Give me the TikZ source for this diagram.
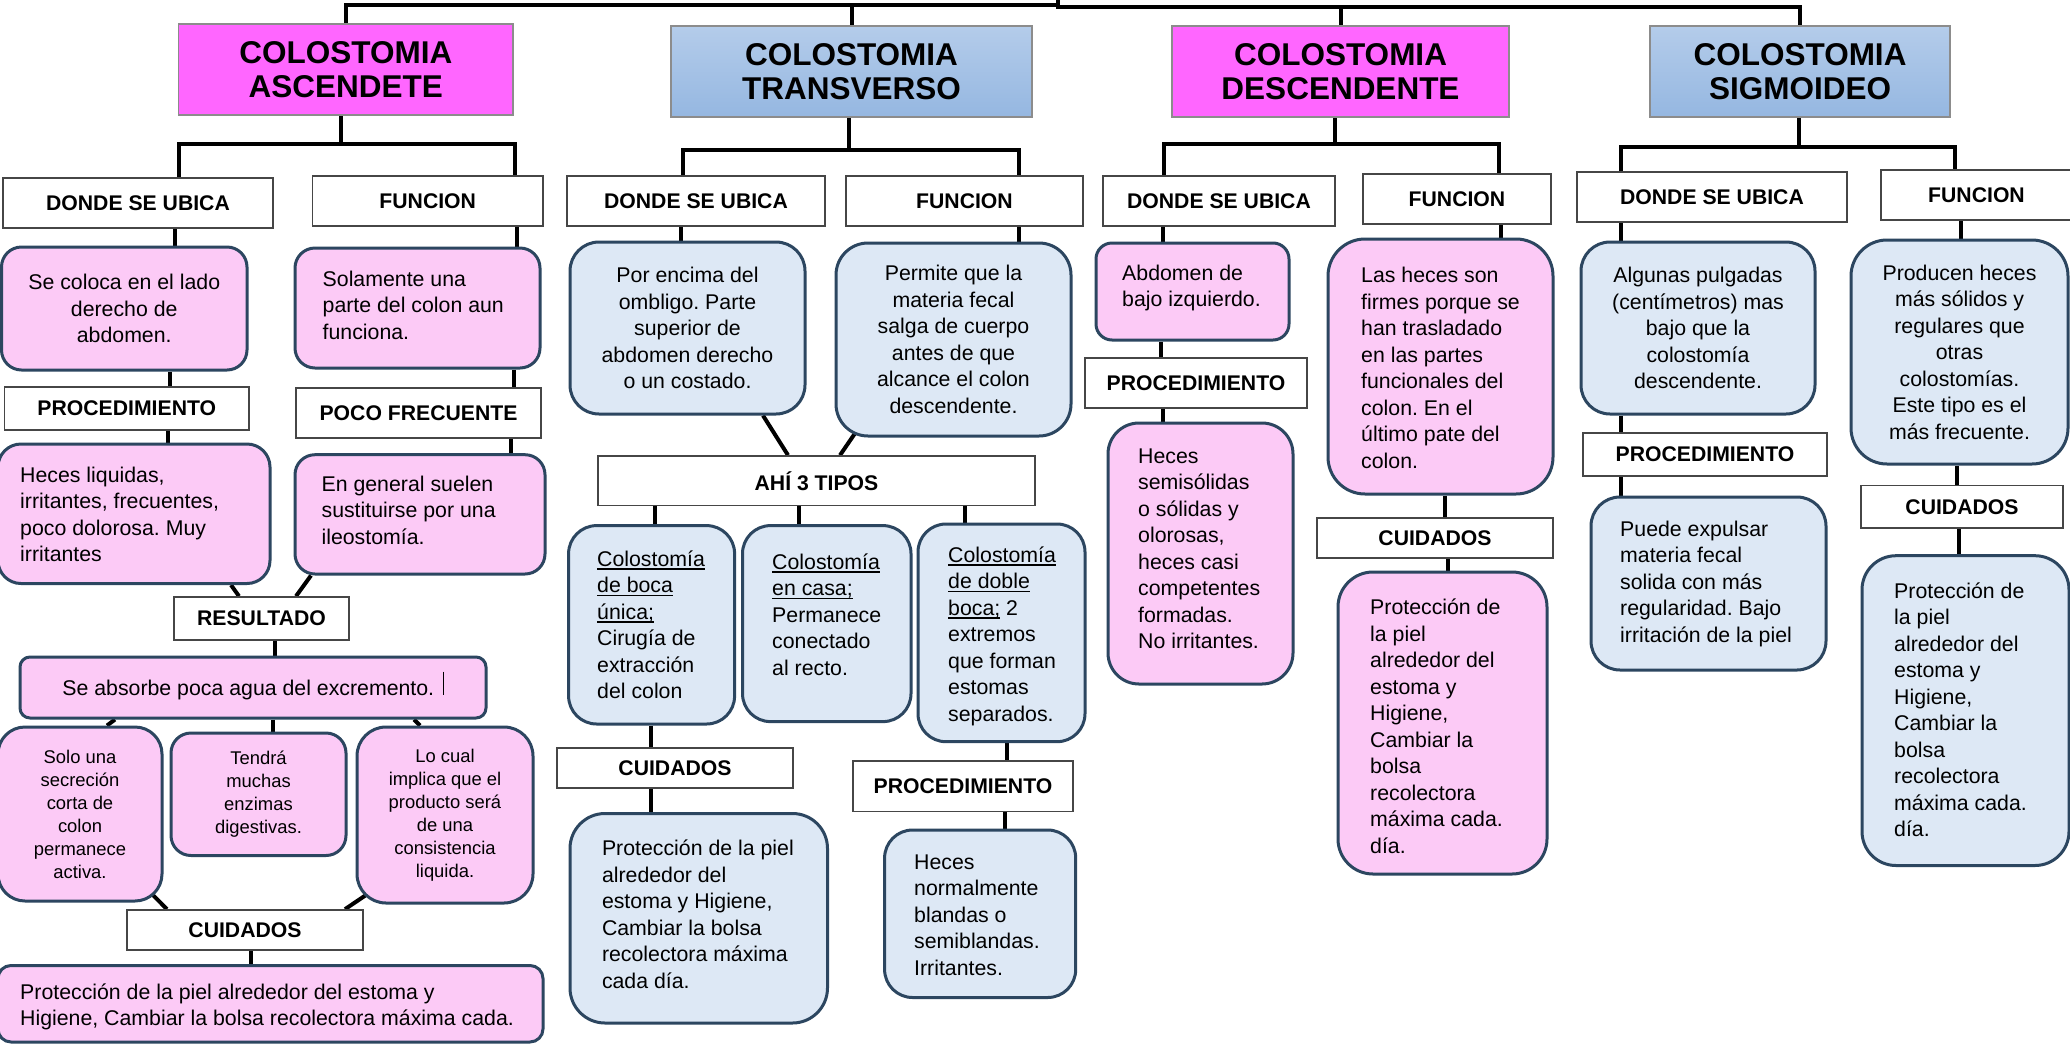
\documentclass[tikz,border=0pt]{standalone}
\usepackage{fontspec}
\setmainfont{Liberation Sans}
\usetikzlibrary{calc}
\frenchspacing
\pgfdeclarelayer{connlayer}
\pgfsetlayers{connlayer,main}
\definecolor{hdrmag}{RGB}{255,102,255}
\definecolor{hdrblueT}{RGB}{180,204,234}
\definecolor{hdrblueB}{RGB}{149,183,225}
\definecolor{hdrline}{RGB}{140,140,140}
\definecolor{lblline}{RGB}{70,70,70}
\definecolor{pinkfill}{RGB}{252,202,246}
\definecolor{bluefill}{RGB}{221,232,245}
\definecolor{rbline}{RGB}{44,70,96}
\newcommand\fBody{\fontsize{21.3}{26.5}\selectfont}
\newcommand\fSmall{\fontsize{18.4}{23}\selectfont}
\newcommand\fLbl{\fontsize{21.2}{26}\selectfont\bfseries}
\newcommand\fHdr{\fontsize{31.5}{34}\selectfont\bfseries}
\newcommand\ulx[1]{\setbox0\hbox{#1}\rlap{\rule[-3.4pt]{\wd0}{1.5pt}}\box0\relax}
\begin{document}
\frenchspacing
\begin{tikzpicture}[x=1pt,y=-1pt,
  conn/.style={line width=4pt, black},
  sz/.style n args={2}{minimum width=#1pt, minimum height=#2pt},
  hdr/.style={draw=hdrline, line width=1.5pt, font=\fHdr, align=center, inner sep=0pt},
  hdrpink/.style={hdr, fill=hdrmag},
  hdrblue/.style={hdr, top color=hdrblueT, bottom color=hdrblueB},
  lbl/.style={draw=lblline, line width=1.6pt, fill=white, font=\fLbl, inner sep=0pt},
  rb/.style={draw=rbline, line width=3pt, align=center, font=\fBody, inner sep=0pt},
  pinkbox/.style={rb, fill=pinkfill},
  bluebox/.style={rb, fill=bluefill},
  txt/.style={inner sep=0pt, align=left, font=\fBody},
  cursorline/.style={line width=1.8pt, black}
]
\useasboundingbox (0,0) rectangle (2070,1045);

% ---------- headers ----------
\node[hdrpink, sz={334.4}{91}] (hA) at (345.8,69.5) {COLOSTOMIA\\ASCENDETE};
\node[hdrblue, sz={361}{91}] (hB) at (851.5,71.5) {COLOSTOMIA\\TRANSVERSO};
\node[hdrpink, sz={337}{91}] (hC) at (1340.5,71.5) {COLOSTOMIA\\DESCENDENTE};
\node[hdrblue, sz={300}{91}] (hD) at (1800,71.5) {COLOSTOMIA\\SIGMOIDEO};

% ---------- labels ----------
\node[lbl, sz={270}{50}] (dA) at (138,203) {DONDE SE UBICA};
\node[lbl, sz={230.5}{50}] (fA) at (427.75,201) {FUNCION};
\node[lbl, sz={244.4}{43}] (pA) at (126.8,408.5) {PROCEDIMIENTO};
\node[lbl, sz={245}{50}] (qA) at (418.5,413) {POCO FRECUENTE};
\node[lbl, sz={175}{43}] (rA) at (261.5,618.5) {RESULTADO};
\node[lbl, sz={236}{40}] (cA) at (245,930) {CUIDADOS};
\node[lbl, sz={258}{50}] (dB) at (696,201) {DONDE SE UBICA};
\node[lbl, sz={237}{50}] (fB) at (964.5,201) {FUNCION};
\node[lbl, sz={437}{49.6}] (tB) at (816.5,480.8) {AHÍ 3 TIPOS};
\node[lbl, sz={236}{40}] (cB) at (675,768) {CUIDADOS};
\node[lbl, sz={220}{50.5}] (pB) at (963,786.25) {PROCEDIMIENTO};
\node[lbl, sz={232}{50}] (dC) at (1219,201) {DONDE SE UBICA};
\node[lbl, sz={188}{50}] (fC) at (1457,199) {FUNCION};
\node[lbl, sz={222}{50}] (pC) at (1196,383) {PROCEDIMIENTO};
\node[lbl, sz={236}{39.7}] (cC) at (1435,537.85) {CUIDADOS};
\node[lbl, sz={270}{50}] (dD) at (1712,197) {DONDE SE UBICA};
\node[lbl, sz={191}{50}] (fD) at (1976.5,195) {FUNCION};
\node[lbl, sz={244}{43}] (pD) at (1705,454.5) {PROCEDIMIENTO};
\node[lbl, sz={202}{42.5}] (cD) at (1962,506.75) {CUIDADOS};

% ---------- Ascendente boxes ----------
\node[pinkbox, sz={245.5}{123}, rounded corners=20pt] (bA1) at (124.25,308.5) {Se coloca en el lado\\derecho de\\abdomen.};
\node[pinkbox, sz={245}{120}, rounded corners=20pt] (bA2) at (417.5,308) {};
\node[pinkbox, sz={272}{139.5}, rounded corners=23pt] (bA3) at (134,513.75) {};
\node[pinkbox, sz={250}{119.3}, rounded corners=20pt] (bA4) at (420,514.35) {};
\node[pinkbox, sz={466}{61}, rounded corners=10pt] (sA) at (253,687.5) {};
\node[pinkbox, sz={164}{174}, rounded corners=27pt, font=\fSmall] (sA1) at (80,814) {Solo una\\secreción\\corta de\\colon\\permanece\\activa.};
\node[pinkbox, sz={175}{122.5}, rounded corners=20pt, font=\fSmall] (sA2) at (258.5,794.25) {Tendrá\\muchas\\enzimas\\digestivas.};
\node[pinkbox, sz={176}{176}, rounded corners=29pt, font=\fSmall] (sA3) at (445,815) {Lo cual\\implica que el\\producto será\\de una\\consistencia\\liquida.};
\node[pinkbox, sz={545}{76.5}, rounded corners=13pt] (bA5) at (270.5,1003.75) {};

\node[txt, anchor=west] (tbA2) at (322.5,305) {Solamente una\\parte del colon aun\\funciona.};
\node[txt, anchor=west] (tbA3) at (20,514.6) {Heces liquidas,\\irritantes, frecuentes,\\poco dolorosa. Muy\\irritantes};
\node[txt, anchor=west] (tbA4) at (321.4,510) {En general suelen\\sustituirse por una\\ileostomía.};
\node[txt] (tsA) at (248.3,690) {Se absorbe poca agua del excremento.};
\node[txt, anchor=west] (tbA5) at (20,1007) {Protección de la piel alrededor del estoma y\\Higiene, Cambiar la bolsa recolectora máxima cada.};
\draw[cursorline] ([xshift=9pt]tsA.east) ++(0,-18.5) -- ++(0,23);

% ---------- Transverso boxes ----------
\node[bluebox, sz={235}{172}, rounded corners=29pt] (bB1) at (687.5,328) {Por encima del\\ombligo. Parte\\superior de\\abdomen derecho\\o un costado.};
\node[bluebox, sz={235}{193}, rounded corners=32pt] (bB2) at (953.5,339.5) {Permite que la\\materia fecal\\salga de cuerpo\\antes de que\\alcance el colon\\descendente.};
\node[bluebox, sz={166}{198.4}, rounded corners=28pt] (tB1) at (651.6,624.8) {};
\node[bluebox, sz={168.5}{196}, rounded corners=28pt] (tB2) at (826.75,623.6) {};
\node[bluebox, sz={167}{217.7}, rounded corners=28pt] (tB3) at (1001.5,632.85) {};
\node[bluebox, sz={257.5}{209.5}, rounded corners=35pt] (bB3) at (698.75,918.25) {};
\node[bluebox, sz={191.1}{167.5}, rounded corners=28pt] (bB4) at (980.15,913.75) {};

\node[txt, anchor=west] (ttB1) at (597,625) {\ulx{Colostomía}\\\ulx{de boca}\\\ulx{única;}\\Cirugía de\\extracción\\del colon};
\node[txt, anchor=west] (ttB2) at (772,614.5) {\ulx{Colostomía}\\\ulx{en casa;}\\Permanece\\conectado\\al recto.};
\node[txt, anchor=west] (ttB3) at (948,636) {\ulx{Colostomía}\\\ulx{de doble}\\\ulx{boca;} 2\\extremos\\que forman\\estomas\\separados.};
\node[txt, anchor=west] (tbB3) at (601.8,914) {Protección de la piel\\alrededor del\\estoma y Higiene,\\Cambiar la bolsa\\recolectora máxima\\cada día.};
\node[txt, anchor=west] (tbB4) at (914,915) {Heces\\normalmente\\blandas o\\semiblandas.\\Irritantes.};

% ---------- Descendente boxes ----------
\node[pinkbox, sz={193}{97}, rounded corners=16pt] (bC1) at (1192.5,291.5) {};
\node[pinkbox, sz={185}{261}, rounded corners=31pt] (bC2) at (1200.5,553.5) {};
\node[pinkbox, sz={225}{255}, rounded corners=37pt] (bC3) at (1440.5,366.5) {};
\node[pinkbox, sz={209}{302}, rounded corners=35pt] (bC4) at (1442.5,723) {};

\node[txt, anchor=west] (tbC1) at (1122,288) {Abdomen de\\bajo izquierdo.};
\node[txt, anchor=west] (tbC2) at (1138,549) {Heces\\semisólidas\\o sólidas y\\olorosas,\\heces casi\\competentes\\formadas.\\No irritantes.};
\node[txt, anchor=west] (tbC3) at (1361,368) {Las heces son\\firmes porque se\\han trasladado\\en las partes\\funcionales del\\colon. En el\\último pate del\\colon.};
\node[txt, anchor=west] (tbC4) at (1370,726) {Protección de\\la piel\\alrededor del\\estoma y\\Higiene,\\Cambiar la\\bolsa\\recolectora\\máxima cada.\\día.};

% ---------- Sigmoideo boxes ----------
\node[bluebox, sz={234}{172}, rounded corners=29pt] (bD1) at (1698,328) {Algunas pulgadas\\(centímetros) mas\\bajo que la\\colostomía\\descendente.};
\node[bluebox, sz={235}{173}, rounded corners=29pt] (bD2) at (1708.5,583.5) {};
\node[bluebox, sz={217}{224}, rounded corners=36pt] (bD3) at (1959.5,352) {Producen heces\\más sólidos y\\regulares que\\otras\\colostomías.\\Este tipo es el\\más frecuente.};
\node[bluebox, sz={207}{309.8}, rounded corners=34pt] (bD4) at (1965.5,710.6) {};

\node[txt, anchor=west] (tbD2) at (1620,583.5) {Puede expulsar\\materia fecal\\solida con más\\regularidad. Bajo\\irritación de la piel};
\node[txt, anchor=west] (tbD4) at (1894,709.5) {Protección de\\la piel\\alrededor del\\estoma y\\Higiene,\\Cambiar la\\bolsa\\recolectora\\máxima cada.\\día.};

% ---------- connectors (behind boxes) ----------
\begin{pgfonlayer}{connlayer}
\fill[white] (0,0) rectangle (2070,1045);
% top
\coordinate (root) at (1058,-4);
\coordinate (t1) at (1058,5);
\coordinate (t2) at (1058,7);
\draw[conn] (hA.north) |- (t1);
\draw[conn] (hB.north) |- (t1);
\draw[conn] (root) -- (t2) -| (hC.north);
\draw[conn] (t2) -| (hD.north);
% Ascendente
\coordinate (jA) at (341,144);
\draw[conn] (341,0 |- hA.south) -- (jA);
\draw[conn] (178.6,0 |- dA.north) |- (jA) -| (515,0 |- fA.north);
\draw[conn] (175,0 |- dA.south) -- (175,0 |- bA1.north);
\draw[conn] (517,0 |- fA.south) -- (517,0 |- bA2.north);
\draw[conn] (170,0 |- bA1.south) -- (170,0 |- pA.north);
\draw[conn] (514,0 |- bA2.south) -- (514,0 |- qA.north);
\draw[conn] (168,0 |- pA.south) -- (168,0 |- bA3.north);
\draw[conn] (511,0 |- qA.south) -- (511,0 |- bA4.north);
\draw[conn] (231,0 |- bA3.south) -- (239,0 |- rA.north);
\draw[conn] (311,0 |- bA4.south) -- (296,0 |- rA.north);
\draw[conn] (275,0 |- rA.south) -- (275,0 |- sA.north);
\draw[conn] (115,0 |- sA.south) -- (107,0 |- sA1.north);
\draw[conn] (273,0 |- sA.south) -- (273,0 |- sA2.north);
\draw[conn] (414,0 |- sA.south) -- (420,0 |- sA3.north);
\draw[conn] ([shift={(-25,-22)}]sA1.south east) -- (167,0 |- cA.north);
\draw[conn] ([shift={(32,-24)}]sA3.south west) -- (345,0 |- cA.north);
\draw[conn] (251,0 |- cA.south) -- (251,0 |- bA5.north);
% Transverso
\coordinate (jB) at (849,150);
\draw[conn] (849,0 |- hB.south) -- (jB);
\draw[conn] (683,0 |- dB.north) |- (jB) -| (1019,0 |- fB.north);
\draw[conn] (681,0 |- dB.south) -- (681,0 |- bB1.north);
\draw[conn] (1019,0 |- fB.south) -- (1019,0 |- bB2.north);
\draw[conn] (763,0 |- bB1.south) -- (788,0 |- tB.north);
\draw[conn] ([shift={(32,-21)}]bB2.south west) -- (840,0 |- tB.north);
\draw[conn] (655,0 |- tB.south) -- (655,0 |- tB1.north);
\draw[conn] (799,0 |- tB.south) -- (799,0 |- tB2.north);
\draw[conn] (965,0 |- tB.south) -- (965,0 |- tB3.north);
\draw[conn] (651,0 |- tB1.south) -- (651,0 |- cB.north);
\draw[conn] (651,0 |- cB.south) -- (651,0 |- bB3.north);
\draw[conn] (1007,0 |- tB3.south) -- (1007,0 |- pB.north);
\draw[conn] (1005,0 |- pB.south) -- (1005,0 |- bB4.north);
% Descendente
\coordinate (jC) at (1335,144);
\draw[conn] (1335,0 |- hC.south) -- (jC);
\draw[conn] (1164,0 |- dC.north) |- (jC) -| (1499,0 |- fC.north);
\draw[conn] (1163,0 |- dC.south) -- (1163,0 |- bC1.north);
\draw[conn] (1161,0 |- bC1.south) -- (1161,0 |- pC.north);
\draw[conn] (1163,0 |- pC.south) -- (1163,0 |- bC2.north);
\draw[conn] (1501,0 |- fC.south) -- (1501,0 |- bC3.north);
\draw[conn] (1445,0 |- bC3.south) -- (1445,0 |- cC.north);
\draw[conn] (1448,0 |- cC.south) -- (1448,0 |- bC4.north);
% Sigmoideo
\coordinate (jD) at (1799,147);
\draw[conn] (1799,0 |- hD.south) -- (jD);
\draw[conn] (1621,0 |- dD.north) |- (jD) -| (1955,0 |- fD.north);
\draw[conn] (1621,0 |- dD.south) -- (1621,0 |- bD1.north);
\draw[conn] (1621,0 |- bD1.south) -- (1621,0 |- pD.north);
\draw[conn] (1621,0 |- pD.south) -- (1621,0 |- bD2.north);
\draw[conn] (1961,0 |- fD.south) -- (1961,0 |- bD3.north);
\draw[conn] (1957,0 |- bD3.south) -- (1957,0 |- cD.north);
\draw[conn] (1959,0 |- cD.south) -- (1959,0 |- bD4.north);
\end{pgfonlayer}
\end{tikzpicture}
\end{document}
